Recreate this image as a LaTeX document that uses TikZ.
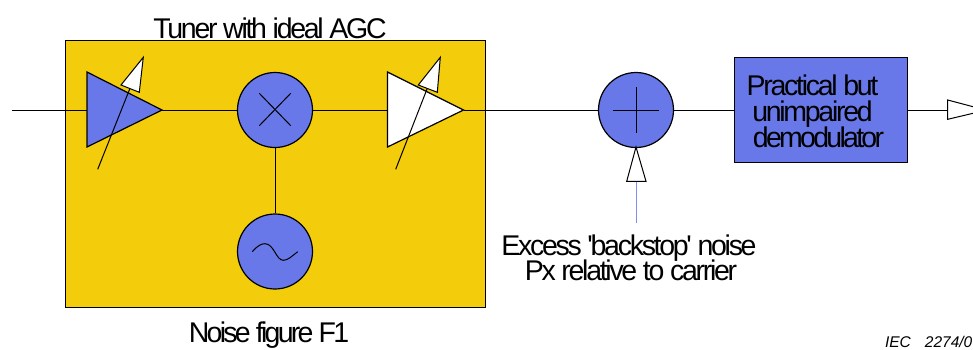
\documentclass[tikz,border=0pt]{standalone}
\usepackage{fontspec}
\setmainfont[LetterSpace=-8,Ligatures=TeXOff]{Liberation Sans}
\newfontfamily\tightfont[LetterSpace=-9.6,Ligatures=TeXOff]{Liberation Sans}
\newfontfamily\stampfont[ItalicFont=Liberation Sans Italic]{Liberation Sans}
\definecolor{tunerfill}{HTML}{F3CC0C}
\definecolor{partfill}{HTML}{6878E8}
\definecolor{noiseline}{HTML}{7F8FF0}
\tikzset{
  wire/.style={draw=black,line width=1pt},
  part/.style={draw=black,line width=1.2pt,line join=miter},
  roundpart/.style={circle,draw=black,line width=1.2pt,fill=partfill,minimum size=75pt,inner sep=0pt},
  label/.style={inner sep=0pt,anchor=base,font=\fontsize{28.5}{28.5}\selectfont,text=black},
  tightlabel/.style={label,font=\tightfont\fontsize{28.5}{28.5}\selectfont},
}
\begin{document}
\begin{tikzpicture}[x=1pt,y=-1pt]
\useasboundingbox (0,0) rectangle (973,349);
\fill[white] (0,0) rectangle (973,349);
% tuner block
\node[draw=black,line width=1.2pt,fill=tunerfill,minimum width=420pt,minimum height=267pt,inner sep=0pt,anchor=north west] (tuner) at (65,40) {};
% named coordinates
\coordinate (in) at (12,110);
\coordinate (a1in) at (87,110);
\coordinate (a1out) at (162,110);
\coordinate (a2in) at (387.5,110);
\coordinate (a2out) at (463.5,110);
\coordinate (outend) at (947.7,110);
\coordinate (noisefoot) at (636,222.5);
\coordinate (noisehead) at (636,181.3);
% round parts
\node[roundpart] (mixer) at (275,110) {};
\node[roundpart] (osc) at (275,251.5) {};
\node[roundpart] (sum) at (636,110) {};
\node[draw=black,line width=1.2pt,fill=partfill,minimum width=173.5pt,minimum height=104.6pt,inner sep=0pt] (demod) at (820.85,110) {};
% connectors
\draw[wire] (in) -- (a1in);
\draw[wire] (a1out) -- (mixer);
\draw[wire] (mixer) -- (a2in);
\draw[wire] (a2out) -- (sum);
\draw[wire] (sum) -- (demod);
\draw[wire] (demod) -- (outend);
\draw[wire] (mixer) -- (osc);
\draw[draw=noiseline,line width=1pt] (noisefoot) -- (noisehead);
% amplifier 1
\filldraw[part,fill=partfill] (87,72) -- (87,147) -- (162,110) -- cycle;
\draw[wire] (97.7,169.3) -- (130,88.3);
\filldraw[part,fill=white,line width=1pt] (143.3,57.3) -- (121,85) -- (139.3,92.3) -- cycle;
% amplifier 2
\filldraw[part,fill=white] (387.5,72) -- (387.5,147) -- (463.5,110) -- cycle;
\draw[wire] (395.7,169.3) -- (427.3,88.3);
\filldraw[part,fill=white,line width=1pt] (440.3,57.3) -- (418.3,85) -- (437.3,92.3) -- cycle;
% symbols in circles
\draw[wire] (259.3,125.7) -- (290.7,93.3);
\draw[wire] (259.3,93.3) -- (290.7,125.7);
\draw[wire] (636,87) -- (636,132.5);
\draw[wire] (613.3,110) -- (658.7,110);
\draw[wire] (252.3,251.7) .. controls (258,245) and (262,243.7) .. (265,243.7)
  .. controls (274,243.7) and (276,260.3) .. (283.3,260.3)
  .. controls (288,260.3) and (292,256) .. (297.7,251.7);
% input arrowhead of noise
\filldraw[part,fill=white,line width=1pt] (636,147) -- (626.7,181.3) -- (646,181.3) -- cycle;
% output arrowhead, cut by the picture edge
\filldraw[part,fill=white,line width=1pt] (973,106.7) -- (947.7,100) -- (947.7,119.3) -- (973,113.3);
% texts
\node[label] (t1) at (270,38) {Tuner with ideal AGC};
\node[tightlabel] (t2) at (269,342.8) {Noise figure F1};
\node[label] (t3) at (629,255) {Excess 'backstop' noise};
\node[label] (t4) at (631,280.5) {Px relative to carrier};
\node[label] (t5) at (812.5,95) {Practical but};
\node[label] (t6) at (812.5,121.7) {unimpaired};
\node[tightlabel] (t7) at (818.5,147.3) {demodulator};
\node[inner sep=0pt,font=\stampfont\fontsize{15.5}{15.5}\itshape\selectfont,anchor=base east] (t8) at (972.5,347.5) {IEC\hspace{14pt}2274/0};
\end{tikzpicture}
\end{document}
